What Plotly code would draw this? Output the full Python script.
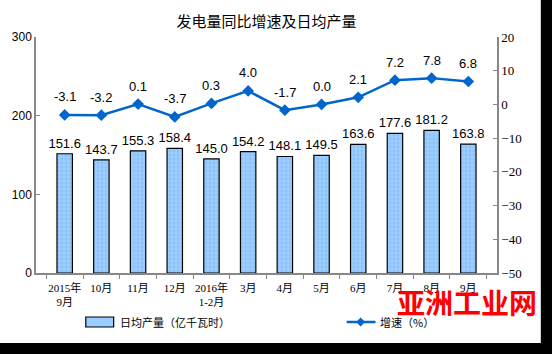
import plotly.graph_objects as go

categories = ["2015年<br>9月", "10月", "11月", "12月", "2016年<br>1-2月", "3月",
              "4月", "5月", "6月", "7月", "8月", "9月"]
daily_output = [151.6, 143.7, 155.3, 158.4, 145.0, 154.2, 148.1, 149.5, 163.6, 177.6, 181.2, 163.8]
growth_rate = [-3.1, -3.2, 0.1, -3.7, 0.3, 4.0, -1.7, 0.0, 2.1, 7.2, 7.8, 6.8]
left_ticks = [0, 100, 200, 300]
right_ticks = [-50, -40, -30, -20, -10, 0, 10, 20]

W, H = 552, 354
L, R, T, B = 34, 497, 37, 273

def px(x):
    return (x - L) / (R - L)

def py(y):
    return (B - y) / (B - T)

cjk = "Noto Sans CJK SC"
num = "Liberation Sans"

fig = go.Figure()
fig.add_trace(go.Bar(
    x=categories, y=daily_output, name="日均产量（亿千瓦时）",
    marker=dict(color="#99CCFF", line=dict(color="#000000", width=1.2),
                pattern=dict(shape=".", fgcolor="#7DB4EC", bgcolor="#99CCFF", size=4, solidity=0.25)),
    text=[f"{v:.1f}" for v in daily_output], textposition="outside", constraintext="none",
    textfont=dict(family=num, size=13, color="#000000"), cliponaxis=False,
    showlegend=False,
))
fig.add_trace(go.Scatter(
    x=categories, y=growth_rate, yaxis="y2", mode="lines+markers", name="增速（%）",
    line=dict(color="#0066CC", width=2.5),
    marker=dict(symbol="diamond", size=9, color="#0066CC"),
    showlegend=False,
))
for c, v in zip(categories, growth_rate):
    fig.add_annotation(x=c, y=v, yref="y2", text=f"{v:.1f}", showarrow=False,
                       yshift=18, font=dict(family=num, size=13, color="#000000"))

fig.update_layout(
    width=W, height=H,
    margin=dict(l=L, r=W - R, t=T, b=H - B),
    paper_bgcolor="#FFFFFF", plot_bgcolor="#FFFFFF",
    bargap=0.58,
    title=dict(text="发电量同比增速及日均产量", x=0.5, xref="paper", y=1 - 22 / H, yanchor="middle",
               font=dict(family=cjk, size=15, color="#000000")),
    xaxis=dict(type="category", showline=True, linecolor="#888888", linewidth=1.5,
               ticks="outside", tickson="boundaries", ticklen=4, tickcolor="#888888",
               tickangle=0, ticklabelstandoff=4,
               tickfont=dict(family="Liberation Serif, " + cjk, size=11, color="#000000"),
               showgrid=False),
    yaxis=dict(range=[0, 300], tickvals=left_ticks, showline=True, linecolor="#888888", linewidth=1.5,
               ticks="inside", ticklen=4, tickcolor="#888888", showgrid=False, zeroline=False,
               tickfont=dict(family=num, size=12, color="#000000")),
    yaxis2=dict(range=[-50, 20], tickvals=right_ticks, overlaying="y", side="right",
                showline=True, linecolor="#888888", linewidth=1.5,
                ticks="inside", ticklen=4, tickcolor="#888888", showgrid=False, zeroline=False,
                tickfont=dict(family="Liberation Serif", size=13, color="#000000")),
    showlegend=False,
)

# manual legend
fig.add_shape(type="rect", xref="paper", yref="paper", x0=px(84), x1=px(112), y0=py(327), y1=py(317),
              fillcolor="#99CCFF", line=dict(color="#000000", width=1.2))
fig.add_annotation(xref="paper", yref="paper", x=px(116), y=py(322), xanchor="left", yanchor="middle",
                   text="日均产量（亿千瓦时）", showarrow=False, font=dict(family=cjk, size=11, color="#000000"))
fig.add_shape(type="line", xref="paper", yref="paper", x0=px(346), x1=px(375), y0=py(322), y1=py(322),
              line=dict(color="#0066CC", width=2.5))
cx, cy, d = 360, 322, 4.5
fig.add_shape(type="path", xref="paper", yref="paper",
              path=f"M {px(cx)},{py(cy - d)} L {px(cx + d)},{py(cy)} L {px(cx)},{py(cy + d)} L {px(cx - d)},{py(cy)} Z",
              fillcolor="#0066CC", line=dict(width=0))
fig.add_annotation(xref="paper", yref="paper", x=px(377), y=py(322), xanchor="left", yanchor="middle",
                   text="增速（%）", showarrow=False, font=dict(family=cjk, size=11, color="#000000"))

# watermark
fig.add_annotation(xref="paper", yref="paper", x=px(467), y=py(302), xanchor="center", yanchor="middle",
                   text="<b>亚洲工业网</b>", showarrow=False,
                   font=dict(family=cjk, size=28, color="#FF0000"))

# black frame edges
fig.add_shape(type="rect", xref="paper", yref="paper", x0=px(541), x1=px(560), y0=py(-5), y1=py(360),
              fillcolor="#000000", line=dict(width=0), layer="above")
fig.add_shape(type="rect", xref="paper", yref="paper", x0=px(-5), x1=px(560), y0=py(343), y1=py(360),
              fillcolor="#000000", line=dict(width=0), layer="above")

fig.write_html("out.html")
